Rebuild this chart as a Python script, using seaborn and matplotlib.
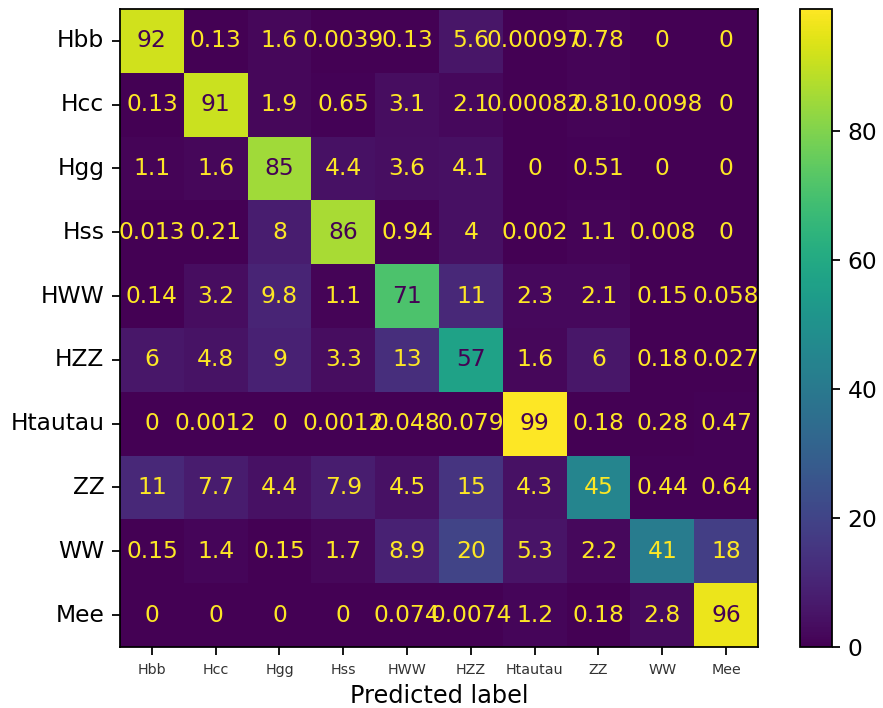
import numpy as np
import pandas as pd
import seaborn as sns
import matplotlib
matplotlib.use("Agg")
import matplotlib.pyplot as plt

labels = ["Hbb", "Hcc", "Hgg", "Hss", "HWW", "HZZ", "Htautau", "ZZ", "WW", "Mee"]

# rows = true class, values in percent
row_hbb = [92, 0.13, 1.6, 0.0039, 0.13, 5.6, 0.00097, 0.78, 0, 0]
row_hcc = [0.13, 91, 1.9, 0.65, 3.1, 2.1, 0.00082, 0.81, 0.0098, 0]
row_hgg = [1.1, 1.6, 85, 4.4, 3.6, 4.1, 0, 0.51, 0, 0]
row_hss = [0.013, 0.21, 8, 86, 0.94, 4, 0.002, 1.1, 0.008, 0]
row_hww = [0.14, 3.2, 9.8, 1.1, 71, 11, 2.3, 2.1, 0.15, 0.058]
row_hzz = [6, 4.8, 9, 3.3, 13, 57, 1.6, 6, 0.18, 0.027]
row_htautau = [0, 0.0012, 0, 0.0012, 0.048, 0.079, 99, 0.18, 0.28, 0.47]
row_zz = [11, 7.7, 4.4, 7.9, 4.5, 15, 4.3, 45, 0.44, 0.64]
row_ww = [0.15, 1.4, 0.15, 1.7, 8.9, 20, 5.3, 2.2, 41, 18]
row_mee = [0, 0, 0, 0, 0.074, 0.0074, 1.2, 0.18, 2.8, 96]

cm = pd.DataFrame(
    [row_hbb, row_hcc, row_hgg, row_hss, row_hww, row_hzz,
     row_htautau, row_zz, row_ww, row_mee],
    index=labels, columns=labels,
)

dpi = 160
fig = plt.figure(figsize=(883 / dpi, 708 / dpi), dpi=dpi)
ax = fig.add_axes([0.1359, 0.0862, 0.7225, 0.9011])
cax = fig.add_axes([0.906, 0.0862, 0.0362, 0.9011])

vmin, vmax = 0, cm.values.max()
cmap = plt.get_cmap("viridis")

sns.heatmap(cm, ax=ax, cbar_ax=cax, cmap=cmap, vmin=vmin, vmax=vmax,
            annot=True, fmt=".2g", square=False, linewidths=0)

# sklearn-like text colours: dark on bright cells, yellow on dark cells
thresh = (vmax + vmin) / 2.0
vals = cm.values.ravel()
for txt, v in zip(ax.texts, vals):
    txt.set_color(cmap(0.0) if v > thresh else cmap(1.0))
    txt.set_fontsize(10.5)

for s in ax.spines.values():
    s.set_visible(True)
    s.set_linewidth(0.8)
    s.set_color("black")

ax.set_yticklabels(labels, rotation=0, fontsize=10.5)
ax.set_xticklabels(labels, rotation=0, fontsize=6.4, color="#333333")
ax.tick_params(axis="both", length=3.5, width=0.8)
ax.set_xlabel("Predicted label", fontsize=10.8, labelpad=3.5)
ax.set_ylabel("")

cbar = ax.collections[0].colorbar
cbar.outline.set_linewidth(0.8)
cbar.outline.set_edgecolor("black")
cbar.set_ticks([0, 20, 40, 60, 80])
cax.tick_params(labelsize=10.5, length=3.5, width=0.8)

fig.savefig("out.png", dpi=dpi)
